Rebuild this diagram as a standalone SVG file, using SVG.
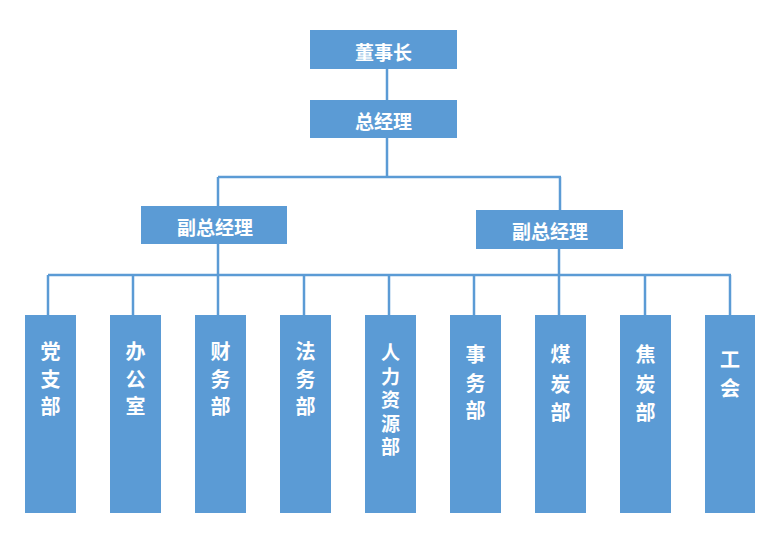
<svg xmlns="http://www.w3.org/2000/svg" width="778" height="548" viewBox="0 0 778 548">
<style>
.box{fill:#5B9BD5;}
.ln{stroke:#5B9BD5;stroke-width:2.5;fill:none;}
.t{font-family:"Noto Sans CJK SC","Noto Sans",sans-serif;font-weight:bold;fill:#ffffff;text-anchor:middle;dominant-baseline:central;}
.h{font-size:19px;}
.v{font-size:20px;}
.s{font-size:19px;}
</style>
<rect width="778" height="548" fill="#ffffff"/>
<g id="connectors">
<path class="ln" d="M387,69 V100"/>
<path class="ln" d="M387,138 V177"/>
<path class="ln" d="M218,177 H561"/>
<path class="ln" d="M218,177 V206"/>
<path class="ln" d="M560,177 V210"/>
<path class="ln" d="M218,244 V275"/>
<path class="ln" d="M559,249 V275"/>
<path class="ln" d="M48,275 H731"/>
<path class="ln" d="M48,275 V315 M133,275 V315 M218,275 V315 M304,275 V315 M389,275 V315 M474,275 V315 M559,275 V315 M645,275 V315 M730,275 V315"/>
</g>
<g id="n-chairman"><rect class="box" x="310" y="30" width="147" height="39"/><text class="t h" x="383.5" y="51">董事长</text></g>
<g id="n-gm"><rect class="box" x="310" y="100" width="147" height="38"/><text class="t h" x="383.5" y="120">总经理</text></g>
<g id="n-vp1"><rect class="box" x="141" y="206" width="146" height="38"/><text class="t h" x="215" y="226">副总经理</text></g>
<g id="n-vp2"><rect class="box" x="476" y="210" width="147" height="39"/><text class="t h" x="550" y="230">副总经理</text></g>
<g id="n-d1"><rect class="box" x="25" y="315" width="51" height="198"/><text class="t v"><tspan x="50.5" y="350">党</tspan><tspan x="50.5" y="378">支</tspan><tspan x="50.5" y="405">部</tspan></text></g>
<g id="n-d2"><rect class="box" x="110" y="315" width="51" height="198"/><text class="t v"><tspan x="135.5" y="350">办</tspan><tspan x="135.5" y="378">公</tspan><tspan x="135.5" y="405">室</tspan></text></g>
<g id="n-d3"><rect class="box" x="195" y="315" width="51" height="198"/><text class="t v"><tspan x="220.5" y="350">财</tspan><tspan x="220.5" y="378">务</tspan><tspan x="220.5" y="405">部</tspan></text></g>
<g id="n-d4"><rect class="box" x="280" y="315" width="51" height="198"/><text class="t v"><tspan x="305.5" y="350">法</tspan><tspan x="305.5" y="378">务</tspan><tspan x="305.5" y="405">部</tspan></text></g>
<g id="n-d5"><rect class="box" x="365" y="315" width="51" height="198"/><text class="t s"><tspan x="390.5" y="351">人</tspan><tspan x="390.5" y="374.5">力</tspan><tspan x="390.5" y="398">资</tspan><tspan x="390.5" y="421.5">源</tspan><tspan x="390.5" y="445">部</tspan></text></g>
<g id="n-d6"><rect class="box" x="450" y="315" width="51" height="198"/><text class="t v"><tspan x="475.5" y="353">事</tspan><tspan x="475.5" y="382">务</tspan><tspan x="475.5" y="409">部</tspan></text></g>
<g id="n-d7"><rect class="box" x="535" y="315" width="51" height="198"/><text class="t v"><tspan x="560.5" y="353">煤</tspan><tspan x="560.5" y="383">炭</tspan><tspan x="560.5" y="411">部</tspan></text></g>
<g id="n-d8"><rect class="box" x="620" y="315" width="51" height="198"/><text class="t v"><tspan x="645.5" y="353">焦</tspan><tspan x="645.5" y="383">炭</tspan><tspan x="645.5" y="411">部</tspan></text></g>
<g id="n-d9"><rect class="box" x="705" y="315" width="50" height="198"/><text class="t v"><tspan x="730" y="358">工</tspan><tspan x="730" y="387">会</tspan></text></g>
</svg>
